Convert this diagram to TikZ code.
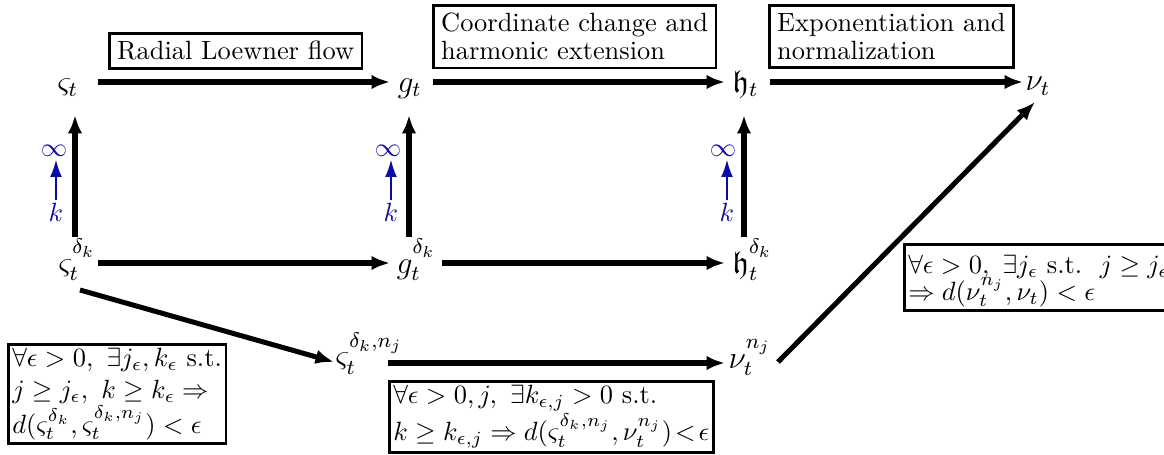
\documentclass[tikz,border=0pt]{standalone}
\usepackage{amssymb}
\usetikzlibrary{arrows.meta}
\definecolor{myblue}{RGB}{10,10,165}
\newcommand\mytightlines{\lineskiplimit=-100pt\relax\lineskip=0pt\relax}
\newcommand\rsup[1]{\raisebox{3pt}{$\scriptstyle #1$}}
\tikzset{
 m/.style={font=\large, inner sep=0pt, anchor=base west},
 arr/.style={line width=1.9pt, -{Latex[length=7pt,width=5.5pt]}},
 barr/.style={myblue, line width=0.55pt, -{Latex[length=6.5pt,width=4.5pt]}},
 bl/.style={text=myblue, inner sep=1pt},
 lbl/.style={draw, line width=1pt, inner sep=3pt, anchor=north west, align=left, font=\fontsize{10}{10.6}\selectfont},
 claim/.style={draw, line width=1pt, inner sep=1.5pt, anchor=north west, align=left},
}
\begin{document}
\begin{tikzpicture}[x=0.379pt,y=-0.379pt]
\useasboundingbox (0,0) rectangle (1164,455);
\clip (0,0) rectangle (1164,455);
% top row
\node[m] (s1) at (57,92) {$\varsigma_t$};
\node[m] (g1) at (397,92) {$g_t$};
\node[m] (h1) at (732,92) {$\mathfrak{h}_t$};
\node[m] (n1) at (1025,91) {$\nu_t$};
% middle row
\node[m] (s2) at (58,273) {$\varsigma_t^{\rsup{\delta_k}}$};
\node[m] (g2) at (396,273) {$g_t^{\rsup{\delta_k}}$};
\node[m] (h2) at (732,273) {$\mathfrak{h}_t^{\rsup{\delta_k}}$};
% bottom row
\node[m] (s3) at (335,367) {$\varsigma_t^{\rsup{\delta_k,n_j}}$};
\node[m] (n3) at (728,368) {$\nu_t^{\rsup{n_j}}$};
% labels
\node[lbl] (b1) at (108,32) {Radial Loewner flow};
\node[lbl] (b2) at (432,4) {Coordinate change and\\harmonic extension};
\node[lbl] (b3) at (768,4) {Exponentiation and\\normalization};
% claims
\node[claim, font=\fontsize{10}{12}\selectfont] (c1) at (7,343)
 {$\forall\epsilon>0,\ \exists j_\epsilon, k_\epsilon$ s.t.\\
  $j\geq j_\epsilon,\ k\geq k_\epsilon\Rightarrow$\\
  $d(\varsigma_t^{\delta_k},\varsigma_t^{\delta_k,n_j})<\epsilon$};
\node[claim, font=\fontsize{10}{12}\selectfont] (c2) at (388,380)
 {$\forall\epsilon>0, j,\ \exists k_{\epsilon,j}>0$ s.t.\\
  $k\geq k_{\epsilon,j}\Rightarrow d(\varsigma_t^{\delta_k,n_j},\nu_t^{n_j})\!<\!\epsilon$};
\node[claim, font={\fontsize{10}{10.2}\selectfont\mytightlines}] (c3) at (903,243)
 {\rule{0pt}{9.5pt}$\forall\epsilon>0,\ \exists j_\epsilon$ s.t.\ \ $j\geq j_\epsilon$\\
  $\Rightarrow d(\nu_t^{n_j},\nu_t)<\epsilon$};
% blue limits
\node[bl] (i1) at (54,151) {$\infty$};
\node[bl] (k1) at (56,212) {$k$};
\node[bl] (i2) at (388,151) {$\infty$};
\node[bl] (k2) at (391,212) {$k$};
\node[bl] (i3) at (723,151) {$\infty$};
\node[bl] (k3) at (727,212) {$k$};
\draw[barr] (k1.north) -- (k1.north |- i1.south);
\draw[barr] (k2.north) -- (k2.north |- i2.south);
\draw[barr] (k3.north) -- (k3.north |- i3.south);
% horizontal arrows
\draw[arr] ([shift={(41,-10)}]s1.base west) -- ([shift={(-7,-10)}]g1.base west);
\draw[arr] ([shift={(36,-10)}]g1.base west) -- ([shift={(-7,-10)}]h1.base west);
\draw[arr] ([shift={(38,-10)}]h1.base west) -- ([shift={(-2,-9)}]n1.base west);
\draw[arr] ([shift={(40,-10)}]s2.base west) -- ([shift={(-6,-10)}]g2.base west);
\draw[arr] ([shift={(46,-10)}]g2.base west) -- ([shift={(-7,-10)}]h2.base west);
\draw[arr] ([shift={(53,-4)}]s3.base west) -- ([shift={(-3,-5)}]n3.base west);
% vertical arrows
\draw[arr] ([shift={(17,-36)}]s2.base west) -- ([shift={(18,23)}]s1.base west);
\draw[arr] ([shift={(13,-36)}]g2.base west) -- ([shift={(12,23)}]g1.base west);
\draw[arr] ([shift={(12,-36)}]h2.base west) -- ([shift={(12,23)}]h1.base west);
% diagonals
\draw[arr] ([shift={(22,17)}]s2.base west) -- ([shift={(-1,-5)}]s3.base west);
\draw[arr] ([shift={(50,-6)}]n3.base west) -- ([shift={(10,11)}]n1.base west);
\end{tikzpicture}
\end{document}
